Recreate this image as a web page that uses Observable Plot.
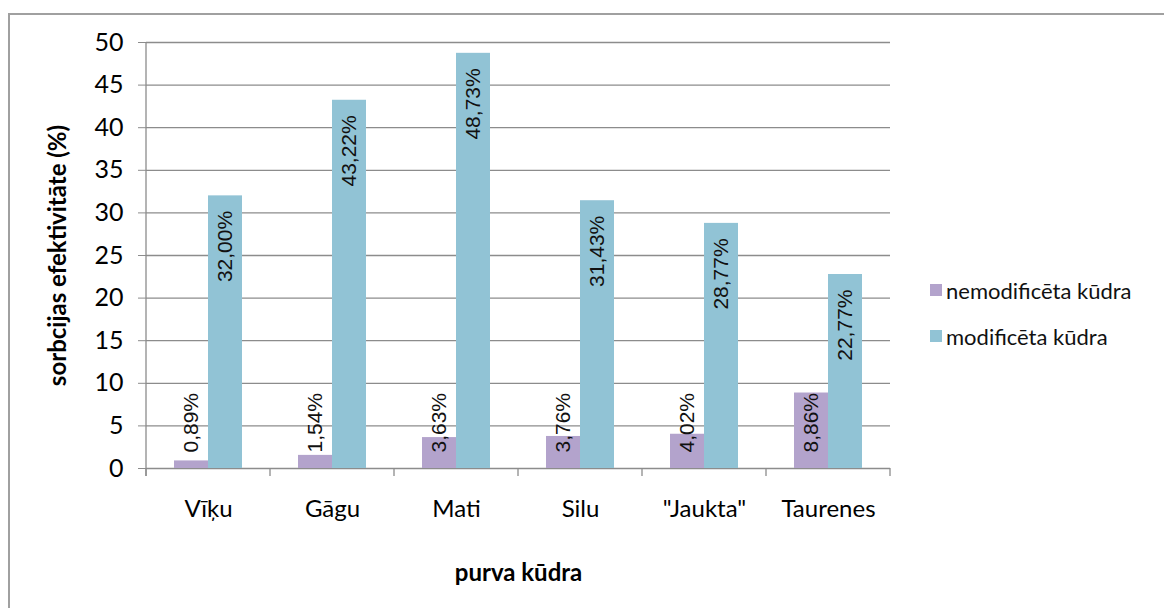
<!DOCTYPE html>
<html>
<head>
<meta charset="utf-8">
<script src="https://cdn.jsdelivr.net/npm/d3@7"></script>
<script src="https://cdn.jsdelivr.net/npm/@observablehq/plot@0.6"></script>
<style>
  body { margin: 0; background: #fff; }
  #wrap { position: relative; width: 1164px; height: 608px; overflow: hidden; background: #fff; }
  #border { position: absolute; left: 8px; top: 13px; width: 1300px; height: 800px;
            border-top: 2px solid #a0a0a0; border-left: 2px solid #a0a0a0; box-sizing: border-box; }
  #chart { position: absolute; left: 0; top: 0; }
  #legend { position: absolute; left: 930px; top: 267px; font-family: Lato, sans-serif; font-size: 22px; color: #111; }
  #legend .row { display: flex; align-items: center; height: 46px; }
  #legend .sw { width: 12px; height: 12px; margin-right: 4px; }
</style>
</head>
<body>
<div id="wrap">
  <div id="border"></div>
  <div id="chart"></div>
  <div id="legend"></div>
</div>
<script>
// Peat types (x categories)
const categories = ["Vīķu", "Gāgu", "Mati", "Silu", "\"Jaukta\"", "Taurenes"];
// Series names
const seriesNames = ["nemodificēta kūdra", "modificēta kūdra"];
// Sorption efficiency, %
const unmodified = [0.89, 1.54, 3.63, 3.76, 4.02, 8.86];
const modified = [32.00, 43.22, 48.73, 31.43, 28.77, 22.77];
// Y axis ticks
const yTicks = [0, 5, 10, 15, 20, 25, 30, 35, 40, 45, 50];
const seriesColors = ["#b3a3cc", "#91c3d5"];

const rows = categories.flatMap((cat, i) => [
  {cat, series: seriesNames[0], value: unmodified[i]},
  {cat, series: seriesNames[1], value: modified[i]}
]);
const fmt = v => d3.format(".2f")(v).replace(".", ",") + "%";
const gridColor = "#8c8c8c";

const chart = Plot.plot({
  width: 1164,
  height: 608,
  marginLeft: 144,
  marginRight: 273,
  marginTop: 42,
  marginBottom: 140,
  style: {fontFamily: "Lato, sans-serif", background: "transparent", color: "#000"},
  fx: {domain: categories, padding: 0},
  x: {domain: seriesNames, paddingInner: 0, paddingOuter: 0.78, axis: null},
  y: {domain: [0, 50]},
  color: {domain: seriesNames, range: seriesColors},
  marks: [
    Plot.ruleY(yTicks, {stroke: gridColor, strokeWidth: 1.3}),
    Plot.barY(rows, {fx: "cat", x: "series", y: "value", fill: "series"}),
    // modified: label inside the top of the bar
    Plot.text(rows.filter(d => d.series === seriesNames[1]), {
      fx: "cat", x: "series", y: "value", text: d => fmt(d.value),
      rotate: -90, textAnchor: "end", dy: 15,
      fontFamily: "Liberation Sans", fontSize: 21, fill: "#111"
    }),
    // unmodified: label starting just above the base
    Plot.text(rows.filter(d => d.series === seriesNames[0]), {
      fx: "cat", x: "series", y: () => 0, text: d => fmt(d.value),
      rotate: -90, textAnchor: "start", dy: -16,
      fontFamily: "Liberation Sans", fontSize: 21, fill: "#111"
    }),
    Plot.axisY({
      ticks: yTicks, tickSize: 8, tickPadding: 15, fontSize: 25, stroke: gridColor,
      label: "sorbcijas efektivitāte (%)", labelAnchor: "center", labelArrow: "none", labelOffset: 98
    }),
    Plot.axisFx({
      anchor: "bottom", tickSize: 0, tickPadding: 31, fontSize: 24,
      label: "purva kūdra", labelAnchor: "center", labelArrow: "none", labelOffset: 112
    })
  ]
});

document.getElementById("chart").appendChild(chart);

// Bold axis titles
d3.select(chart).selectAll('g[aria-label="y-axis label"] text, g[aria-label="fx-axis label"] text')
  .attr("font-weight", "bold").attr("font-size", 24);

// Y axis line and category boundary ticks on the baseline
const fx = chart.scale("fx");
const y = chart.scale("y");
const bw = fx.bandwidth;
const bounds = categories.map(c => fx.apply(c)).concat([fx.apply(categories[categories.length - 1]) + bw]);
const svg = d3.select(chart);
const g = svg.append("g").attr("stroke", gridColor).attr("stroke-width", 1.3);
g.append("line").attr("x1", bounds[0]).attr("x2", bounds[0]).attr("y1", y.apply(50)).attr("y2", y.apply(0) + 8);
g.selectAll("line.b").data(bounds).join("line").attr("class", "b")
  .attr("x1", d => d).attr("x2", d => d).attr("y1", y.apply(0)).attr("y2", y.apply(0) + 8);

// Legend
const legend = d3.select("#legend");
seriesNames.forEach((name, i) => {
  const row = legend.append("div").attr("class", "row");
  row.append("div").attr("class", "sw").style("background", seriesColors[i]);
  row.append("span").text(name);
});
</script>
</body>
</html>
